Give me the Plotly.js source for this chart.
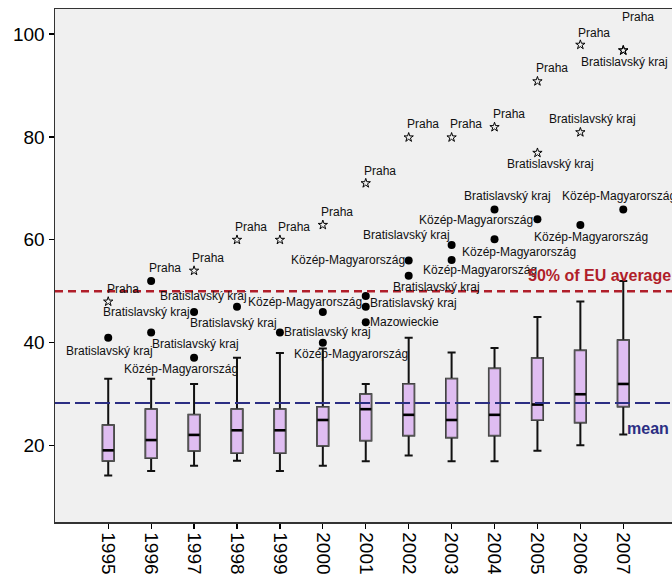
<!DOCTYPE html>
<html>
<head>
<meta charset="utf-8">
<script src="https://cdn.plot.ly/plotly-3.0.1.min.js"></script>
<style>html,body{margin:0;padding:0;overflow:hidden;background:#fff}</style>
</head>
<body>
<div id="chart" style="width:672px;height:581px"></div>
<script>
// ---- data ----
const years = [1995,1996,1997,1998,1999,2000,2001,2002,2003,2004,2005,2006,2007];
const q1 =          [17.1,17.6,19.0,18.6,18.6,20.0,21.0,22.0,21.6,22.0,25.0,24.5,27.6];
const medians =     [19.1,21.1,22.1,23.0,23.0,25.0,27.1,26.0,25.0,26.0,28.0,30.0,32.0];
const q3 =          [24.0,27.1,26.0,27.1,27.1,27.5,30.0,32.0,33.0,35.0,37.0,38.5,40.5];
const whiskerLow =  [14.2,15.1,16.1,17.1,15.1,16.1,17.0,18.1,17.0,17.0,19.0,20.1,22.2];
const whiskerHigh = [33.0,33.0,32.0,37.1,38.0,38.9,32.0,41.0,38.1,39.0,45.0,48.0,52.0];

const outlierYears   = [1995,1995,1996,1996,1997,1997,1997,1998,1998,1999,1999,2000,2000,2000,2001,2001,2001,2001,2002,2002,2002,2003,2003,2003,2004,2004,2004,2005,2005,2005,2006,2006,2006,2007,2007,2007];
const outlierValues  = [48.0,41.0,52.0,42.0,54.0,46.0,37.1,60.0,47.0,60.0,42.0,62.9,46.0,40.0,71.0,49.1,47.0,44.0,79.9,56.0,53.0,79.9,59.0,56.1,81.9,65.9,60.1,90.8,76.9,64.0,97.9,80.9,62.9,96.8,96.8,65.9];
const outlierRegions = ["Praha","Bratislavský kraj","Praha","Bratislavský kraj","Praha","Bratislavský kraj","Közép-Magyarország","Praha","Bratislavský kraj","Praha","Bratislavský kraj","Praha","Bratislavský kraj","Közép-Magyarország","Praha","Közép-Magyarország","Bratislavský kraj","Mazowieckie","Praha","Közép-Magyarország","Bratislavský kraj","Praha","Bratislavský kraj","Közép-Magyarország","Praha","Bratislavský kraj","Közép-Magyarország","Praha","Bratislavský kraj","Közép-Magyarország","Praha","Bratislavský kraj","Közép-Magyarország","Praha","Bratislavský kraj","Közép-Magyarország"];
const outlierKinds   = ["extreme","outlier","outlier","outlier","extreme","outlier","outlier","extreme","outlier","extreme","outlier","extreme","outlier","outlier","extreme","outlier","outlier","outlier","extreme","outlier","outlier","extreme","outlier","outlier","extreme","outlier","outlier","extreme","extreme","outlier","extreme","extreme","outlier","extreme","extreme","outlier"];

const yTicks = [20,40,60,80,100];
const euHalfLevel = 50;
const meanLevel = 28.3;
const euHalfText = "50% of EU average";
const meanText = "mean";

// ---- label placement (anchor, dx px, dy px; screen down positive) ----
const labelPlacement = [
  ["left",-3,-13],["center",1,13],["left",-4,-13],["left",-1,12],["left",-4,-13],["right",-2,0],["center",-13,11],
  ["left",-4,-13],["right",12,-11],["left",-4,-13],["right",-1,-9],["left",-4,-13],["center",5,20],["left",-31,11],
  ["left",-4,-12],["right",-2,6],["left",2,-4],["left",2,0],["left",-4,-13],["right",-2,0],["left",-18,11],
  ["left",-4,-13],["right",0,-10],["left",-31,10],["left",-4,-13],["center",13,-13],["left",-35,13],
  ["left",-3,-13],["center",13,11],["right",-2,1],["left",-4,-12],["center",12,-13],["center",11,12],
  ["left",-3,-33],["center",1,12],["left",-63,-13]
];

const FONT = "Liberation Sans, Arial, sans-serif";
const violet = "#DFBDF1";

const boxWidth = 0.26;
const traces = [];
// whiskers + box (black)
traces.push({
  type: "box", x: years, q1: q1, median: medians, q3: q3,
  lowerfence: whiskerLow, upperfence: whiskerHigh,
  width: boxWidth, whiskerwidth: 0.72, boxpoints: false,
  fillcolor: violet, line: {color: "#111", width: 2},
  hoverinfo: "skip", showlegend: false
});
// box outline (grey) on top
traces.push({
  type: "box", x: years, q1: q1, median: medians, q3: q3,
  lowerfence: q1, upperfence: q3,
  width: boxWidth, whiskerwidth: 0.72, boxpoints: false,
  fillcolor: violet, line: {color: "#555", width: 1.5},
  hoverinfo: "skip", showlegend: false
});
// thick median lines
const mx = [], my = [];
years.forEach((yr, i) => {
  mx.push(yr - boxWidth/2, yr + boxWidth/2, null);
  my.push(medians[i], medians[i], null);
});
traces.push({type: "scatter", mode: "lines", x: mx, y: my,
  line: {color: "#000", width: 2.6}, hoverinfo: "skip", showlegend: false});

// outliers
const dotIdx = [], starIdx = [];
outlierKinds.forEach((k, i) => (k === "extreme" ? starIdx : dotIdx).push(i));
traces.push({type: "scatter", mode: "markers",
  x: dotIdx.map(i => outlierYears[i]), y: dotIdx.map(i => outlierValues[i]),
  marker: {symbol: "circle", size: 8, color: "#000"}, hoverinfo: "skip", showlegend: false});
traces.push({type: "scatter", mode: "markers",
  x: starIdx.map(i => outlierYears[i]), y: starIdx.map(i => outlierValues[i]),
  marker: {symbol: "star-open", size: 7, color: "#000", line: {color: "#000", width: 1}},
  hoverinfo: "skip", showlegend: false});

const annotations = outlierRegions.map((r, i) => ({
  x: outlierYears[i], y: outlierValues[i], xref: "x", yref: "y",
  text: r, showarrow: false,
  xanchor: labelPlacement[i][0], yanchor: "middle",
  xshift: labelPlacement[i][1], yshift: -labelPlacement[i][2],
  font: {family: FONT, size: 12, color: "#111"}
}));
annotations.push({
  x: 0.763, xref: "paper", y: euHalfLevel, yref: "y", yshift: 16,
  xanchor: "left", yanchor: "middle", showarrow: false, text: "<b>" + euHalfText + "</b>",
  font: {family: FONT, size: 16, color: "#B01E2A"}
});
annotations.push({
  x: 0.924, xref: "paper", y: meanLevel, yref: "y", yshift: -25,
  xanchor: "left", yanchor: "middle", showarrow: false, text: "<b>" + meanText + "</b>",
  font: {family: FONT, size: 16, color: "#2B2E83"}
});

const layout = {
  width: 672, height: 581,
  margin: {l: 55, r: 0, t: 9, b: 59, pad: 0},
  paper_bgcolor: "#ffffff", plot_bgcolor: "#F0F0F0",
  showlegend: false, boxmode: "overlay",
  font: {family: FONT, color: "#000"},
  xaxis: {
    type: "linear", range: [1993.76, 2008.135],
    tickvals: years, ticktext: years.map(String), tickangle: 90,
    ticks: "outside", ticklen: 5, tickwidth: 1.2, tickcolor: "#000",
    showgrid: false, zeroline: false,
    showline: true, linecolor: "#333", linewidth: 1.5, mirror: true,
    tickfont: {family: FONT, size: 19, color: "#000"}
  },
  yaxis: {
    range: [5.18, 104.85], tickvals: yTicks,
    ticks: "outside", ticklen: 5, tickwidth: 1.2, tickcolor: "#000",
    showgrid: false, zeroline: false,
    showline: true, linecolor: "#333", linewidth: 1.5,
    tickfont: {family: FONT, size: 19, color: "#000"}
  },
  shapes: [
    {type: "line", xref: "paper", x0: 0, x1: 1, yref: "y", y0: euHalfLevel, y1: euHalfLevel,
     line: {color: "#B01E2A", width: 2.5, dash: "8px,5px"}},
    {type: "line", xref: "paper", x0: 0, x1: 1, yref: "y", y0: meanLevel, y1: meanLevel,
     line: {color: "#2B2E83", width: 2, dash: "15px,5px"}}
  ],
  annotations: annotations
};

Plotly.newPlot("chart", traces, layout, {displayModeBar: false, staticPlot: true});
</script>
</body>
</html>
